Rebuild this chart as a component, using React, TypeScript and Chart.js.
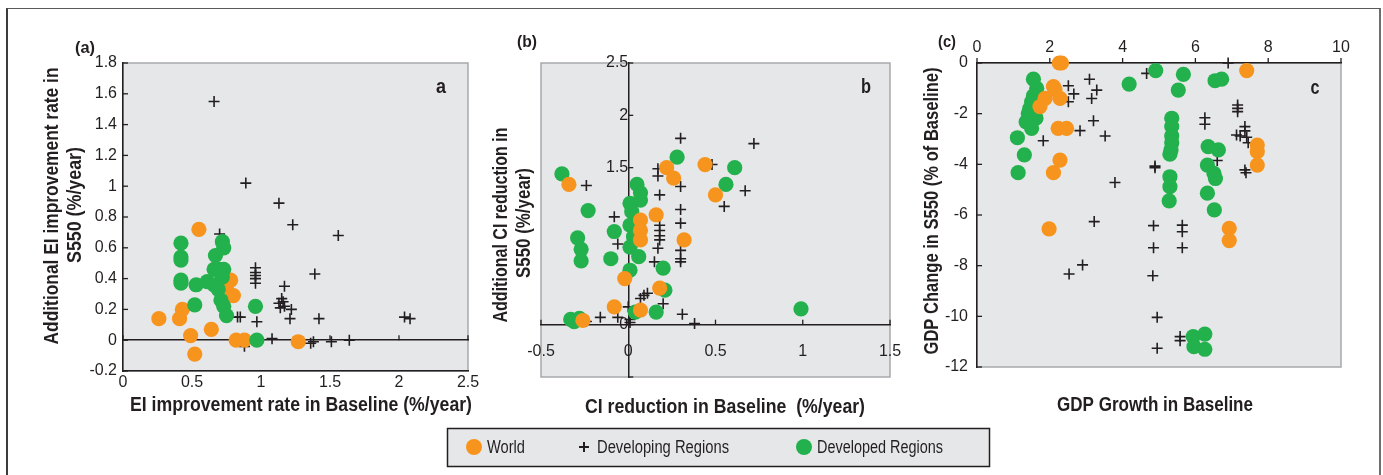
import React, { useEffect, useRef } from "react";
import { Chart, registerables } from "chart.js";

Chart.register(...registerables);

type Pt = { x: number; y: number };

// ---------- Panel (a): EI improvement ----------
const aWorld: Pt[] = [
  { x: 0.55, y: 0.72 }, { x: 0.26, y: 0.14 }, { x: 0.41, y: 0.14 }, { x: 0.43, y: 0.2 },
  { x: 0.49, y: 0.03 }, { x: 0.52, y: -0.09 }, { x: 0.64, y: 0.07 }, { x: 0.78, y: 0.39 },
  { x: 0.8, y: 0.29 }, { x: 0.75, y: 0.35 }, { x: 0.82, y: 0 }, { x: 0.88, y: 0 },
  { x: 1.27, y: -0.01 },
];
const aDeveloping: Pt[] = [
  { x: 0.66, y: 1.55 }, { x: 0.89, y: 1.02 }, { x: 1.13, y: 0.89 }, { x: 1.23, y: 0.75 },
  { x: 1.56, y: 0.68 }, { x: 1.39, y: 0.43 }, { x: 0.7, y: 0.69 },
  { x: 0.96, y: 0.47 }, { x: 0.96, y: 0.44 }, { x: 0.96, y: 0.42 }, { x: 0.96, y: 0.4 }, { x: 0.96, y: 0.37 },
  { x: 1.17, y: 0.35 }, { x: 1.15, y: 0.27 }, { x: 1.16, y: 0.25 }, { x: 1.13, y: 0.24 },
  { x: 1.17, y: 0.22 }, { x: 1.14, y: 0.21 }, { x: 1.22, y: 0.2 }, { x: 1.21, y: 0.14 },
  { x: 0.83, y: 0.15 }, { x: 0.85, y: 0.15 }, { x: 0.97, y: 0.12 }, { x: 1.42, y: 0.14 },
  { x: 2.04, y: 0.15 }, { x: 2.08, y: 0.14 }, { x: 1.08, y: 0.01 }, { x: 0.88, y: -0.04 },
  { x: 1.38, y: -0.01 }, { x: 1.36, y: -0.02 }, { x: 1.51, y: -0.01 }, { x: 1.64, y: 0 },
];
const aDeveloped: Pt[] = [
  { x: 0.42, y: 0.63 }, { x: 0.42, y: 0.54 }, { x: 0.42, y: 0.52 }, { x: 0.42, y: 0.39 },
  { x: 0.42, y: 0.37 }, { x: 0.53, y: 0.36 }, { x: 0.52, y: 0.23 }, { x: 0.61, y: 0.38 },
  { x: 0.67, y: 0.55 }, { x: 0.72, y: 0.64 }, { x: 0.73, y: 0.6 }, { x: 0.66, y: 0.46 },
  { x: 0.7, y: 0.46 }, { x: 0.73, y: 0.46 }, { x: 0.72, y: 0.41 }, { x: 0.66, y: 0.36 },
  { x: 0.71, y: 0.26 }, { x: 0.73, y: 0.22 }, { x: 0.75, y: 0.16 }, { x: 0.96, y: 0.22 },
  { x: 0.97, y: 0 }, { x: 0.69, y: 0.33 },
];
const aXTicks = [0, 0.5, 1, 1.5, 2, 2.5];
const aYTicks = [-0.2, 0, 0.2, 0.4, 0.6, 0.8, 1, 1.2, 1.4, 1.6, 1.8];

// ---------- Panel (b): CI reduction ----------
const bWorld: Pt[] = [
  { x: -0.34, y: 1.34 }, { x: -0.26, y: 0.04 }, { x: -0.08, y: 0.17 }, { x: -0.02, y: 0.44 },
  { x: 0.07, y: 0.14 }, { x: 0.07, y: 1.0 }, { x: 0.07, y: 0.9 }, { x: 0.07, y: 0.81 },
  { x: 0.16, y: 1.05 }, { x: 0.22, y: 1.5 }, { x: 0.26, y: 1.4 }, { x: 0.32, y: 0.81 },
  { x: 0.18, y: 0.35 }, { x: 0.44, y: 1.53 }, { x: 0.5, y: 1.24 },
];
const bDeveloping: Pt[] = [
  { x: 0.3, y: 1.78 }, { x: 0.72, y: 1.73 }, { x: -0.24, y: 1.33 }, { x: 0.67, y: 1.28 },
  { x: 0.55, y: 1.13 }, { x: 0.3, y: 1.32 }, { x: 0.17, y: 1.49 }, { x: 0.17, y: 1.42 },
  { x: 0.18, y: 1.24 }, { x: 0.3, y: 1.1 }, { x: 0.3, y: 0.97 }, { x: 0.48, y: 1.53 },
  { x: 0.18, y: 0.95 }, { x: 0.18, y: 0.9 }, { x: 0.18, y: 0.85 }, { x: 0.18, y: 0.81 },
  { x: 0.17, y: 0.73 }, { x: 0.3, y: 0.71 }, { x: 0.3, y: 0.63 }, { x: 0.3, y: 0.6 },
  { x: 0.15, y: 0.6 }, { x: -0.08, y: 1.03 }, { x: -0.06, y: 0.77 }, { x: 0.09, y: 0.28 },
  { x: 0.11, y: 0.3 }, { x: 0.07, y: 0.25 }, { x: 0.2, y: 0.2 }, { x: 0.31, y: 0.1 },
  { x: 0.38, y: 0.01 }, { x: -0.16, y: 0.07 }, { x: -0.24, y: 0.03 }, { x: -0.06, y: 0.07 },
  { x: 0.0, y: 0.17 }, { x: 0.01, y: 0.02 }, { x: 0.01, y: 0.05 },
];
const bDeveloped: Pt[] = [
  { x: -0.38, y: 1.44 }, { x: -0.23, y: 1.09 }, { x: -0.29, y: 0.83 }, { x: -0.27, y: 0.72 },
  { x: -0.27, y: 0.61 }, { x: -0.1, y: 0.63 }, { x: -0.08, y: 0.89 }, { x: -0.33, y: 0.05 },
  { x: -0.31, y: 0.03 }, { x: -0.28, y: 0.06 }, { x: 0.05, y: 1.34 }, { x: 0.07, y: 1.26 },
  { x: 0.07, y: 1.19 }, { x: 0.01, y: 1.16 }, { x: 0.02, y: 1.08 }, { x: 0.01, y: 0.95 },
  { x: 0.03, y: 0.84 }, { x: 0.01, y: 0.74 }, { x: 0.06, y: 0.65 }, { x: 0.01, y: 0.52 },
  { x: 0.04, y: 0.12 }, { x: 0.2, y: 0.54 }, { x: 0.21, y: 0.33 }, { x: 0.16, y: 0.12 },
  { x: 0.28, y: 1.6 }, { x: 0.61, y: 1.5 }, { x: 0.56, y: 1.34 }, { x: 0.99, y: 0.15 },
];
const bXTicks = [-0.5, 0, 0.5, 1, 1.5];
const bYTicks = [-0.5, 0, 0.5, 1, 1.5, 2, 2.5];
const bYLabelled = [0, 1.5, 2, 2.5];

// ---------- Panel (c): GDP ----------
const cWorld: Pt[] = [
  { x: 2.26, y: 0 }, { x: 2.32, y: 0 }, { x: 7.41, y: -0.3 }, { x: 2.1, y: -0.93 },
  { x: 2.14, y: -1.05 }, { x: 2.28, y: -1.4 }, { x: 1.87, y: -1.4 }, { x: 1.73, y: -1.72 },
  { x: 2.23, y: -2.58 }, { x: 2.46, y: -2.58 }, { x: 2.28, y: -3.83 }, { x: 2.1, y: -4.33 },
  { x: 1.98, y: -6.55 }, { x: 6.93, y: -6.53 }, { x: 6.93, y: -7.01 }, { x: 7.7, y: -3.24 },
  { x: 7.7, y: -3.5 }, { x: 7.7, y: -4.03 },
];
const cDeveloping: Pt[] = [
  { x: 4.66, y: -0.41 }, { x: 6.9, y: 0 }, { x: 2.51, y: -0.9 }, { x: 2.66, y: -1.22 },
  { x: 2.51, y: -1.53 }, { x: 3.09, y: -0.64 }, { x: 3.29, y: -1.07 }, { x: 3.15, y: -1.4 },
  { x: 3.2, y: -2.28 }, { x: 2.83, y: -2.67 }, { x: 3.52, y: -2.88 }, { x: 1.82, y: -3.07 },
  { x: 3.79, y: -4.72 }, { x: 3.22, y: -6.26 }, { x: 2.53, y: -8.33 }, { x: 2.9, y: -7.97 },
  { x: 4.89, y: -4.07 }, { x: 4.89, y: -4.13 }, { x: 4.85, y: -6.42 }, { x: 4.85, y: -7.29 },
  { x: 4.83, y: -8.4 }, { x: 4.95, y: -10.04 }, { x: 4.95, y: -11.26 }, { x: 5.58, y: -10.8 },
  { x: 5.58, y: -10.96 }, { x: 5.64, y: -6.4 }, { x: 5.64, y: -6.66 }, { x: 5.64, y: -7.29 },
  { x: 6.26, y: -2.16 }, { x: 6.26, y: -2.42 }, { x: 7.16, y: -1.66 }, { x: 7.16, y: -1.79 },
  { x: 7.16, y: -1.92 }, { x: 7.13, y: -2.84 }, { x: 7.23, y: -2.88 }, { x: 7.36, y: -2.51 },
  { x: 7.36, y: -2.68 }, { x: 7.41, y: -2.93 }, { x: 7.45, y: -3.15 }, { x: 7.36, y: -4.22 },
  { x: 7.39, y: -4.33 }, { x: 6.6, y: -3.85 },
];
const cDeveloped: Pt[] = [
  { x: 1.55, y: -0.64 }, { x: 1.64, y: -1.0 }, { x: 1.55, y: -1.3 }, { x: 1.5, y: -1.53 },
  { x: 1.45, y: -1.8 }, { x: 1.41, y: -1.99 }, { x: 1.62, y: -2.18 }, { x: 1.35, y: -2.32 },
  { x: 1.5, y: -2.58 }, { x: 1.11, y: -2.95 }, { x: 1.3, y: -3.63 }, { x: 1.13, y: -4.33 },
  { x: 4.18, y: -0.83 }, { x: 4.91, y: -0.3 }, { x: 5.67, y: -0.45 }, { x: 5.53, y: -1.07 },
  { x: 6.54, y: -0.7 }, { x: 6.72, y: -0.64 }, { x: 5.35, y: -2.18 }, { x: 5.35, y: -2.51 },
  { x: 5.35, y: -2.88 }, { x: 5.35, y: -3.15 }, { x: 5.33, y: -3.43 }, { x: 5.3, y: -3.6 },
  { x: 5.3, y: -4.49 }, { x: 5.3, y: -4.88 }, { x: 5.28, y: -5.44 }, { x: 6.35, y: -3.3 },
  { x: 6.63, y: -3.43 }, { x: 6.33, y: -4.03 }, { x: 6.51, y: -4.36 }, { x: 6.55, y: -4.56 },
  { x: 6.33, y: -5.14 }, { x: 6.52, y: -5.8 }, { x: 5.94, y: -10.8 }, { x: 5.96, y: -11.2 },
  { x: 6.26, y: -10.7 }, { x: 6.26, y: -11.3 },
];
const cXTicks = [0, 2, 4, 6, 8, 10];
const cYTicks = [0, -2, -4, -6, -8, -10, -12];

const seriesNames = ["World", "Developing Regions", "Developed Regions"];

// ---------- styling ----------
const ORANGE = "#F7941D";
const GREEN = "#22B14C";
const INK = "#231F20";
const PLOT_BG = "#E6E7E8";
const PLOT_EDGE = "#A7A9AC";
const FONT = "'Liberation Sans', Arial, sans-serif";

const fmt = (v: number) => String(Math.round(v * 10) / 10);

type TextSpec = { t: string; x: number; y: number; size: number; w: number; bold?: boolean; rot?: boolean };
type TickSpec = { scale: string; at: string; value: number; dir: number; len: number };

function drawText(ctx: CanvasRenderingContext2D, tx: TextSpec, align: CanvasTextAlign = "center") {
  ctx.save();
  ctx.font = `${tx.bold ? "bold " : ""}${tx.size}px ${FONT}`;
  ctx.textAlign = align;
  ctx.textBaseline = "middle";
  const m = ctx.measureText(tx.t).width || 1;
  ctx.translate(tx.x, tx.y);
  if (tx.rot) ctx.rotate(-Math.PI / 2);
  ctx.scale(tx.w / m, 1);
  ctx.fillText(tx.t, 0, 0);
  ctx.restore();
}

function makeDeco(texts: TextSpec[], ticks: TickSpec[], legend: boolean) {
  return {
    id: "deco",
    beforeDraw(chart: any) {
      const { ctx, chartArea: a } = chart;
      ctx.save();
      ctx.fillStyle = PLOT_BG;
      ctx.fillRect(a.left, a.top, a.right - a.left, a.bottom - a.top);
      ctx.strokeStyle = PLOT_EDGE;
      ctx.lineWidth = 1.5;
      ctx.strokeRect(a.left, a.top, a.right - a.left, a.bottom - a.top);
      ctx.restore();
    },
    beforeDatasetsDraw(chart: any) {
      const ctx = chart.ctx;
      ctx.save();
      ctx.strokeStyle = INK;
      ctx.lineWidth = 1.3;
      for (const tk of ticks) {
        const s = chart.scales[tk.scale];
        const o = chart.scales[tk.at];
        const base = o.getPixelForValue(tk.value);
        for (const t of s.ticks) {
          const p = s.getPixelForValue(t.value);
          ctx.beginPath();
          if (s.isHorizontal()) {
            ctx.moveTo(p, base);
            ctx.lineTo(p, base + tk.dir * tk.len);
          } else {
            ctx.moveTo(base, p);
            ctx.lineTo(base + tk.dir * tk.len, p);
          }
          ctx.stroke();
        }
      }
      ctx.restore();
    },
    afterDraw(chart: any) {
      const ctx = chart.ctx;
      ctx.save();
      ctx.fillStyle = INK;
      for (const tx of texts) drawText(ctx, tx);
      if (legend) {
        const ds = chart.data.datasets;
        ctx.fillStyle = PLOT_BG;
        ctx.fillRect(447.5, 428.5, 542, 38);
        ctx.strokeStyle = INK;
        ctx.lineWidth = 1.5;
        ctx.strokeRect(447.5, 428.5, 542, 38);
        const cy = 447;
        const marks = [474, 584, 804];
        const widths = [38, 132, 126];
        ds.forEach((d: any, i: number) => {
          const mx = marks[i];
          if (d.pointStyle === "cross") {
            ctx.strokeStyle = INK;
            ctx.lineWidth = 2;
            ctx.beginPath();
            ctx.moveTo(mx - 5, cy); ctx.lineTo(mx + 5, cy);
            ctx.moveTo(mx, cy - 5); ctx.lineTo(mx, cy + 5);
            ctx.stroke();
          } else {
            ctx.fillStyle = d.backgroundColor;
            ctx.beginPath();
            ctx.arc(mx, cy, 8, 0, Math.PI * 2);
            ctx.fill();
          }
          ctx.fillStyle = INK;
          drawText(ctx, { t: d.label, x: mx + 13, y: cy + 1, size: 18, w: widths[i] }, "left");
        });
      }
      ctx.restore();
    },
  };
}

function makeDatasets(world: Pt[], developing: Pt[], developed: Pt[], greenOnTop: boolean) {
  return [
    {
      label: seriesNames[0], data: world, pointStyle: "circle", pointRadius: 7.6,
      backgroundColor: ORANGE, borderColor: ORANGE, pointBorderWidth: 0,
      showLine: false, clip: false, order: greenOnTop ? 1 : 0, xAxisID: "x", yAxisID: "y",
    },
    {
      label: seriesNames[1], data: developing, pointStyle: "cross", pointRadius: 5.5,
      backgroundColor: INK, borderColor: INK, pointBorderWidth: 1.6,
      showLine: false, clip: false, order: 2, xAxisID: "x", yAxisID: "y",
    },
    {
      label: seriesNames[2], data: developed, pointStyle: "circle", pointRadius: 7.6,
      backgroundColor: GREEN, borderColor: GREEN, pointBorderWidth: 0,
      showLine: false, clip: false, order: greenOnTop ? 0 : 1, xAxisID: "x", yAxisID: "y",
    },
  ];
}

function axis(min: number, max: number, tickVals: number[], position: any, padding: number, extra: any = {}, label?: (v: number) => string) {
  return {
    type: "linear",
    min, max, position,
    afterBuildTicks: (s: any) => { s.ticks = tickVals.map((v) => ({ value: v })); },
    grid: { display: false, drawTicks: false },
    border: { display: true, color: INK, width: 1.5 },
    ticks: {
      font: { family: FONT, size: 16 }, color: INK, padding, maxRotation: 0, minRotation: 0,
      autoSkip: false, callback: label || ((v: number) => fmt(v)),
    },
    ...extra,
  };
}

function baseOptions(padding: any, scales: any) {
  return {
    responsive: false,
    animation: false,
    events: [],
    layout: { padding, autoPadding: false },
    plugins: { legend: { display: false }, tooltip: { enabled: false } },
    scales,
  };
}

function configA(): any {
  return {
    type: "scatter",
    data: { datasets: makeDatasets(aWorld, aDeveloping, aDeveloped, true) },
    options: baseOptions({ left: 83, top: 63, right: 915, bottom: 64 }, {
      x: axis(0, 2.5, aXTicks, "bottom", 2, { afterFit: (s: any) => { s.height = 40; } }),
      x0: {
        type: "linear", min: 0, max: 2.5, position: { y: 0 },
        afterBuildTicks: (s: any) => { s.ticks = aXTicks.map((v) => ({ value: v })); },
        grid: { display: false, drawTicks: false }, ticks: { display: false },
        border: { display: true, color: INK, width: 1.5 },
      },
      y: axis(-0.2, 1.8, aYTicks, "left", 6, { afterFit: (s: any) => { s.width = 40; } }),
    }),
    plugins: [makeDeco([
      { t: "(a)", x: 85, y: 48, size: 17, w: 20, bold: true },
      { t: "a", x: 441, y: 87, size: 21, w: 10, bold: true },
      { t: "Additional EI improvement rate in", x: 52, y: 206, size: 20, w: 277, bold: true, rot: true },
      { t: "S550 (%/year)", x: 75, y: 205, size: 20, w: 116, bold: true, rot: true },
      { t: "EI improvement rate in Baseline (%/year)", x: 301, y: 405, size: 20, w: 342, bold: true },
    ], [
      { scale: "y", at: "x", value: 0, dir: 1, len: 5 },
      { scale: "x", at: "y", value: 0, dir: -1, len: 5 },
    ], false)],
  };
}

function configB(): any {
  return {
    type: "scatter",
    data: { datasets: makeDatasets(bWorld, bDeveloping, bDeveloped, false) },
    options: baseOptions({ left: 541, top: 63, right: 493, bottom: 98 }, {
      x: axis(-0.5, 1.5, bXTicks, { y: 0 }, 17),
      y: axis(-0.5, 2.5, bYTicks, { x: 0 }, 11, {}, (v: number) => (bYLabelled.includes(v) ? fmt(v) : "")),
    }),
    plugins: [makeDeco([
      { t: "(b)", x: 527, y: 42, size: 17, w: 20, bold: true },
      { t: "b", x: 866, y: 87, size: 21, w: 10, bold: true },
      { t: "Additional CI reduction in", x: 501, y: 225, size: 20, w: 195, bold: true, rot: true },
      { t: "S550 (%/year)", x: 524, y: 223, size: 20, w: 110, bold: true, rot: true },
      { t: "CI reduction in Baseline  (%/year)", x: 725, y: 407, size: 20, w: 280, bold: true },
    ], [
      { scale: "y", at: "x", value: 0, dir: 1, len: 5 },
      { scale: "x", at: "y", value: 0, dir: -1, len: 5 },
    ], true)],
  };
}

function configC(): any {
  return {
    type: "scatter",
    data: { datasets: makeDatasets(cWorld, cDeveloping, cDeveloped, false) },
    options: baseOptions({ left: 937, top: 33, right: 42, bottom: 108 }, {
      x: axis(0, 10, cXTicks, "top", 6, { afterFit: (s: any) => { s.height = 30; } }),
      y: axis(-12, 0, cYTicks, "left", 9, { afterFit: (s: any) => { s.width = 40; } }),
    }),
    plugins: [makeDeco([
      { t: "(c)", x: 947, y: 42, size: 17, w: 18, bold: true },
      { t: "c", x: 1315, y: 88, size: 21, w: 9, bold: true },
      { t: "GDP Change in S550 (% of Baseline)", x: 932, y: 211, size: 20, w: 287, bold: true, rot: true },
      { t: "GDP Growth in Baseline", x: 1155, y: 405, size: 20, w: 196, bold: true },
    ], [
      { scale: "y", at: "x", value: 0, dir: 1, len: 5 },
      { scale: "x", at: "y", value: 0, dir: -1, len: 5 },
    ], false)],
  };
}

export default function App() {
  const ra = useRef<HTMLCanvasElement>(null);
  const rb = useRef<HTMLCanvasElement>(null);
  const rc = useRef<HTMLCanvasElement>(null);

  useEffect(() => {
    const charts = [
      new Chart(ra.current!, configA()),
      new Chart(rb.current!, configB()),
      new Chart(rc.current!, configC()),
    ];
    return () => charts.forEach((c) => c.destroy());
  }, []);

  const cv: React.CSSProperties = { position: "absolute", left: 0, top: 0, width: 1383, height: 475 };
  return (
    <div style={{ position: "fixed", left: 0, top: 0, width: 1383, height: 475, background: "#fff", overflow: "hidden" }}>
      <div
        style={{
          position: "absolute", left: 6, top: 8, width: 1375, height: 500, boxSizing: "border-box",
          borderLeft: "2px solid #3c3c3c", borderTop: "1.5px solid #58595b", borderRight: "2px solid #6d6e71",
        }}
      />
      <canvas ref={ra} width={1383} height={475} style={cv} />
      <canvas ref={rb} width={1383} height={475} style={cv} />
      <canvas ref={rc} width={1383} height={475} style={cv} />
    </div>
  );
}
